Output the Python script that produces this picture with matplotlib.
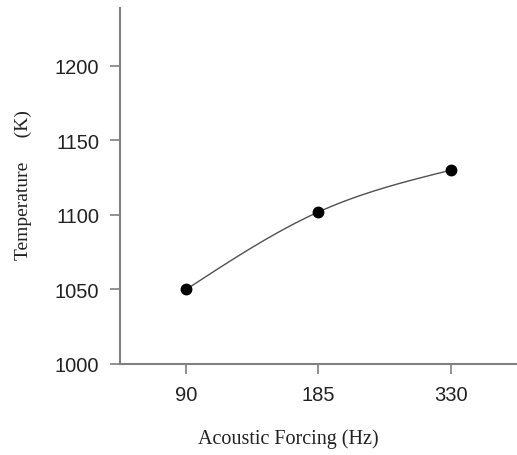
import numpy as np
import matplotlib
matplotlib.use("Agg")
import matplotlib.pyplot as plt

categories = ["90", "185", "330"]
temperature = [1050, 1102, 1130]

def natural_spline(x, y, n=200):
    x = np.asarray(x, float); y = np.asarray(y, float)
    k = len(x)
    h = np.diff(x)
    A = np.zeros((k, k)); b = np.zeros(k)
    A[0, 0] = 1; A[-1, -1] = 1
    for i in range(1, k - 1):
        A[i, i - 1] = h[i - 1]; A[i, i] = 2 * (h[i - 1] + h[i]); A[i, i + 1] = h[i]
        b[i] = 3 * ((y[i + 1] - y[i]) / h[i] - (y[i] - y[i - 1]) / h[i - 1])
    c = np.linalg.solve(A, b)
    xs = np.linspace(x[0], x[-1], n); ys = np.empty_like(xs)
    for j, xv in enumerate(xs):
        i = min(np.searchsorted(x, xv, side="right") - 1, k - 2)
        dx = xv - x[i]
        bb = (y[i + 1] - y[i]) / h[i] - h[i] * (2 * c[i] + c[i + 1]) / 3
        d = (c[i + 1] - c[i]) / (3 * h[i])
        ys[j] = y[i] + bb * dx + c[i] * dx ** 2 + d * dx ** 3
    return xs, ys

fig = plt.figure(figsize=(5.17, 4.56), dpi=100)
ax = fig.add_axes([0.2321, 0.1996, 0.7679, 0.7804])
xpos = np.arange(len(categories))
xs, ys = natural_spline(xpos, temperature)
ax.plot(xs, ys, color="#505050", lw=1.0, zorder=2)
ax.plot(xpos, temperature, "o", color="black", ms=7.5, zorder=3)

ax.set_xlim(-0.5, 2.5)
ax.set_ylim(1000, 1238.7)
ax.set_xticks(xpos)
ax.set_xticklabels(categories)
ax.set_yticks([1000, 1050, 1100, 1150, 1200])
for s in ["top", "right"]:
    ax.spines[s].set_visible(False)
for s in ["left", "bottom"]:
    ax.spines[s].set_color("#808080")
    ax.spines[s].set_linewidth(1.5)
ax.tick_params(axis="both", colors="#808080", labelcolor="#222222", labelsize=14.5,
               length=7, width=1.2, direction="out")
for lab in ax.get_xticklabels() + ax.get_yticklabels():
    lab.set_family("Liberation Sans")
ax.tick_params(axis="x", pad=8)
ax.tick_params(axis="y", pad=8)

ax.set_xlabel("Acoustic Forcing (Hz)", family="Liberation Serif", fontsize=14.5, color="#222222")
ax.set_ylabel("Temperature     (K)", family="Liberation Serif", fontsize=14, color="#222222")
ax.xaxis.set_label_coords(0.423, -0.182)
ax.yaxis.set_label_coords(-0.222, 0.506)

fig.savefig("out.png", dpi=100)
